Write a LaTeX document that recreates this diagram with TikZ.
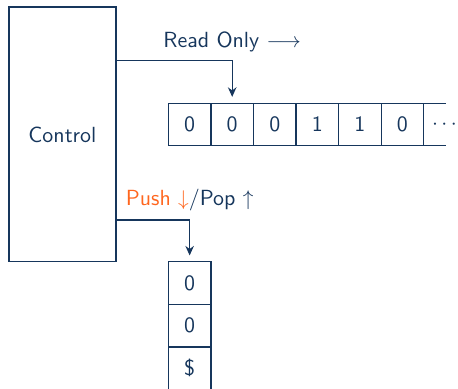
\documentclass[tikz,border=0pt]{standalone}
\usepackage{amsmath}
\usepackage{amssymb}
\usetikzlibrary{calc}
\usetikzlibrary{positioning}
\usetikzlibrary{arrows.meta}

\definecolor{ctrlblue}{RGB}{22,54,92}
\definecolor{pushorange}{RGB}{255,102,30}

\begin{document}
\begin{tikzpicture}[x=1pt, y=1pt, ctrlblue, line width=0.55pt, font=\sffamily\fontsize{10.3}{12}\selectfont,
	cell/.style={draw, minimum size=20pt, inner sep=0pt, outer sep=0pt},
	ctrlbox/.style={draw, minimum width=50.3pt, minimum height=119.8pt, outer sep=0pt},
	arr/.style={-{Stealth[length=4.5pt, width=4pt]}}]
	\useasboundingbox (0,0) rectangle (215.3,-182.8);
	\node[ctrlbox] (ctrl) at (29.35,-63.2) {Control};
	% tape
	\node[cell] (t1) at (89.15,-58.55) {0};
	\node[cell, right=0pt of t1] (t2) {0};
	\node[cell, right=0pt of t2] (t3) {0};
	\node[cell, right=0pt of t3] (t4) {1};
	\node[cell, right=0pt of t4] (t5) {1};
	\node[cell, right=0pt of t5] (t6) {0};
	\node[cell, draw=none, right=0pt of t6, xshift=0.6pt] (t7) {$\cdots$};
	\draw (t6.north east) -- (t7.north);
	\draw (t6.south east) -- (t7.south);
	% stack
	\node[cell, below=0pt of ctrl.south east -| t1] (s1) {0};
	\node[cell, below=0pt of s1] (s2) {0};
	\node[cell, below=0pt of s2] (s3) {\$};
	% connectors
	\coordinate (rd) at ([yshift=-25.2pt]ctrl.north east);
	\coordinate (rdc) at (rd -| t2);
	\coordinate (ps) at ([yshift=19.7pt]ctrl.south east);
	\coordinate (psc) at (ps -| s1);
	\draw[arr] (rd) -| ([yshift=3pt]t2.north);
	\draw[arr] (ps) -| ([yshift=3pt]s1.north);
	\node[anchor=base] (rdlabel) at ([yshift=6.4pt]rdc) {Read Only $\longrightarrow$};
	\node[anchor=base] (pslabel) at ([yshift=7pt]psc) {\textcolor{pushorange}{Push $\downarrow$}/Pop $\uparrow$};
\end{tikzpicture}
\end{document}
